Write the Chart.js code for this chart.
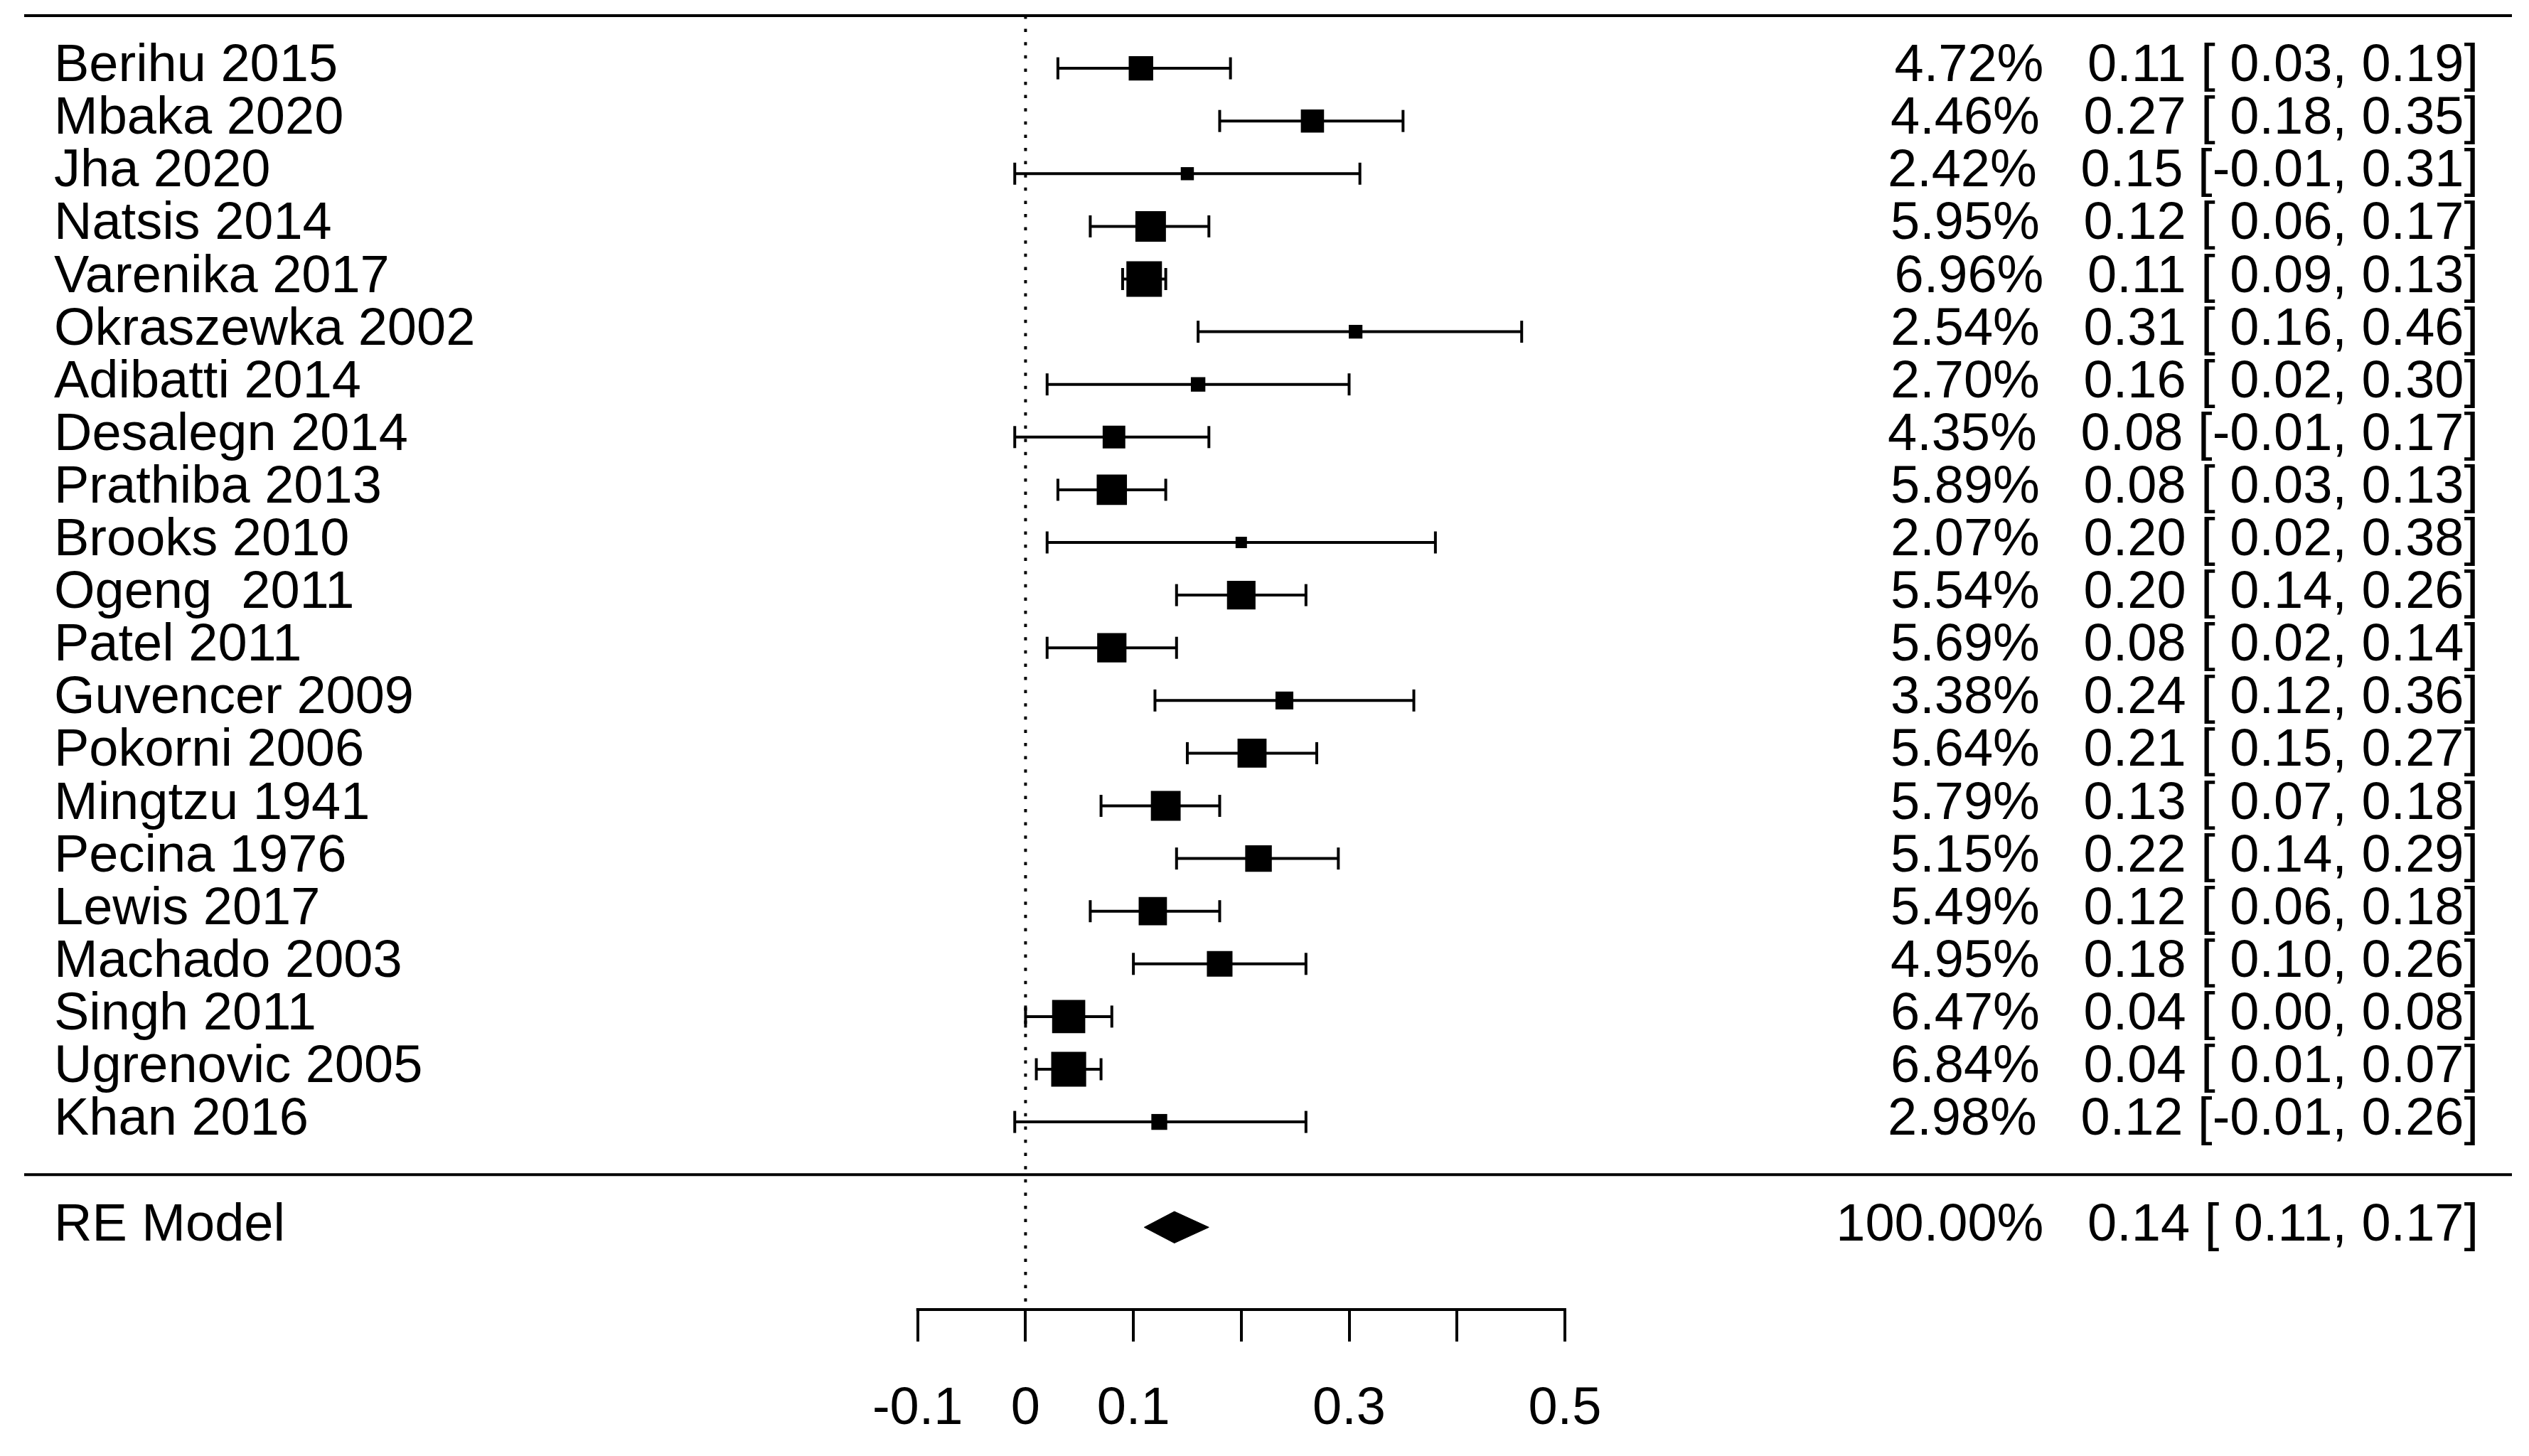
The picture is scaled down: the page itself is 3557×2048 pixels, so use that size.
<!DOCTYPE html>
<html>
<head>
<meta charset="utf-8">
<script src="https://cdn.jsdelivr.net/npm/chart.js@4/dist/chart.umd.min.js"></script>
<style>
html,body{margin:0;padding:0;background:#ffffff;}
canvas{display:block;}
</style>
</head>
<body>
<canvas id="forest" width="3557" height="2048"></canvas>
<script>
// ---------------- data ----------------
const studies = ['Berihu 2015','Mbaka 2020','Jha 2020','Natsis 2014','Varenika 2017','Okraszewka 2002','Adibatti 2014','Desalegn 2014','Prathiba 2013','Brooks 2010','Ogeng  2011','Patel 2011','Guvencer 2009','Pokorni 2006','Mingtzu 1941','Pecina 1976','Lewis 2017','Machado 2003','Singh 2011','Ugrenovic 2005','Khan 2016'];
const weights   = [4.72, 4.46, 2.42, 5.95, 6.96, 2.54, 2.70, 4.35, 5.89, 2.07, 5.54, 5.69, 3.38, 5.64, 5.79, 5.15, 5.49, 4.95, 6.47, 6.84, 2.98];
const estimates = [0.107, 0.266, 0.15, 0.116, 0.11, 0.306, 0.16, 0.082, 0.08, 0.20, 0.20, 0.08, 0.24, 0.21, 0.13, 0.216, 0.118, 0.18, 0.04, 0.04, 0.124];
const lower     = [0.03, 0.18, -0.01, 0.06, 0.09, 0.16, 0.02, -0.01, 0.03, 0.02, 0.14, 0.02, 0.12, 0.15, 0.07, 0.14, 0.06, 0.10, 0.00, 0.01, -0.01];
const upper     = [0.19, 0.35, 0.31, 0.17, 0.13, 0.46, 0.30, 0.17, 0.13, 0.38, 0.26, 0.14, 0.36, 0.27, 0.18, 0.29, 0.18, 0.26, 0.08, 0.07, 0.26];

const modelLabel    = 'RE Model';
const modelWeight   = 100.00;
const modelEstimate = 0.138;
const modelLower    = 0.11;
const modelUpper    = 0.17;

const tickValues = [-0.1, 0, 0.1, 0.2, 0.3, 0.4, 0.5];
const tickLabels = ['-0.1', '0', '0.1', '', '0.3', '', '0.5'];

// ---------------- layout / style constants ----------------
const FONT_FAMILY = "'Liberation Sans', Arial, Helvetica, sans-serif";
const FONT_SIZE = 74;
const INK = '#000000';
const k = studies.length;
const rows = studies.map((_, i) => k - i);   // k .. 1
const modelRow = -1;
const topRow = k + 1;
const sepRow = 0;

const X_MIN = -0.92841, X_MAX = 1.37811;
const Y_MAX = 22.2969, Y_MIN = -2.5614;
const MIN_SIDE = 16, MAX_SIDE = 50;
const wMin = Math.min(...weights), wMax = Math.max(...weights);
const squareRadius = weights.map(w => (MIN_SIDE + (w - wMin) / (wMax - wMin) * (MAX_SIDE - MIN_SIDE)) / (2 * Math.SQRT1_2));
const DIAMOND_HALF = 0.30;

function fmt(v) { return v.toFixed(2); }
function fmtLo(v) { return (v < 0 ? '' : ' ') + v.toFixed(2); }
function annot(w, e, lo, hi) { return fmt(w) + '%   ' + fmt(e) + ' [' + fmtLo(lo) + ', ' + fmt(hi) + ']'; }

// ---------------- datasets ----------------
const datasets = [];

// squares (drawn on top)
datasets.push({
  label: 'estimates',
  data: rows.map((r, i) => ({x: estimates[i], y: r})),
  showLine: false,
  pointStyle: 'rect',
  pointRadius: squareRadius,
  pointHoverRadius: squareRadius,
  pointBackgroundColor: INK,
  pointBorderWidth: 0,
  clip: false
});

// confidence intervals with end caps
rows.forEach((r, i) => {
  datasets.push({
    label: 'ci ' + studies[i],
    data: [{x: lower[i], y: r}, {x: upper[i], y: r}],
    showLine: true,
    borderColor: INK,
    borderWidth: 4,
    pointStyle: 'line',
    pointRotation: 90,
    pointRadius: 15.5,
    pointHoverRadius: 15.5,
    pointBorderColor: INK,
    pointBorderWidth: 4,
    clip: false
  });
});

// summary diamond: upper half filled to lower half
datasets.push({
  label: 'diamond upper',
  data: [{x: modelLower, y: modelRow}, {x: modelEstimate, y: modelRow + DIAMOND_HALF}, {x: modelUpper, y: modelRow}],
  showLine: true,
  borderColor: INK,
  borderWidth: 1,
  backgroundColor: INK,
  fill: '+1',
  pointRadius: 0,
  tension: 0
});
datasets.push({
  label: 'diamond lower',
  data: [{x: modelLower, y: modelRow}, {x: modelEstimate, y: modelRow - DIAMOND_HALF}, {x: modelUpper, y: modelRow}],
  showLine: true,
  borderColor: INK,
  borderWidth: 1,
  backgroundColor: INK,
  fill: false,
  pointRadius: 0,
  tension: 0
});

// reference (dotted) line at 0
datasets.push({
  label: 'zero line',
  data: [{x: 0, y: topRow}, {x: 0, y: Y_MIN}],
  showLine: true,
  borderColor: INK,
  borderWidth: 4,
  borderDash: [4.5, 14.1],
  borderCapStyle: 'butt',
  pointRadius: 0,
  clip: false
});

// horizontal rules
[topRow, sepRow].forEach(r => {
  datasets.push({
    label: 'rule ' + r,
    data: [{x: X_MIN, y: r}, {x: X_MAX, y: r}],
    showLine: true,
    borderColor: INK,
    borderWidth: 4,
    pointRadius: 0,
    clip: false
  });
});

// axis baseline (only across the tick range)
datasets.push({
  label: 'axis',
  data: [{x: tickValues[0], y: Y_MIN}, {x: tickValues[tickValues.length - 1], y: Y_MIN}],
  showLine: true,
  borderColor: INK,
  borderWidth: 4,
  borderCapStyle: 'square',
  pointRadius: 0,
  clip: false
});

// ---------------- text plugin ----------------
const textPlugin = {
  id: 'forestText',
  afterDraw(chart) {
    const ctx = chart.ctx;
    const ys = chart.scales.y;
    ctx.save();
    ctx.fillStyle = INK;
    ctx.font = FONT_SIZE + 'px ' + FONT_FAMILY;
    ctx.textBaseline = 'alphabetic';
    const leftX = 76, rightX = 3486;
    rows.forEach((r, i) => {
      const y = ys.getPixelForValue(r) + 18;
      ctx.textAlign = 'left';
      ctx.fillText(studies[i], leftX, y);
      ctx.textAlign = 'right';
      ctx.fillText(annot(weights[i], estimates[i], lower[i], upper[i]), rightX, y);
    });
    const my = ys.getPixelForValue(modelRow) + 19;
    ctx.textAlign = 'left';
    ctx.fillText(modelLabel, leftX, my);
    ctx.textAlign = 'right';
    ctx.fillText(annot(modelWeight, modelEstimate, modelLower, modelUpper), rightX, my);
    ctx.restore();
  }
};

// ---------------- chart ----------------
new Chart(document.getElementById('forest'), {
  type: 'scatter',
  data: { datasets },
  options: {
    responsive: false,
    devicePixelRatio: 1,
    animation: false,
    events: [],
    layout: { autoPadding: false, padding: { left: 34, right: 24, top: 0, bottom: 0 } },
    plugins: {
      legend: { display: false },
      tooltip: { enabled: false },
      title: { display: false }
    },
    scales: {
      x: {
        type: 'linear',
        position: 'bottom',
        min: X_MIN,
        max: X_MAX,
        afterBuildTicks: (scale) => { scale.ticks = tickValues.map(v => ({ value: v })); },
        afterFit: (scale) => { scale.height = 206; },
        border: { display: false },
        grid: {
          display: true,
          drawOnChartArea: false,
          drawTicks: true,
          tickLength: 45,
          tickWidth: 4,
          lineWidth: 4,
          tickColor: INK,
          color: INK
        },
        ticks: {
          autoSkip: false,
          maxRotation: 0,
          minRotation: 0,
          padding: 51,
          color: INK,
          font: { family: FONT_FAMILY, size: FONT_SIZE },
          callback: (value, index) => tickLabels[index]
        }
      },
      y: {
        type: 'linear',
        display: false,
        min: Y_MIN,
        max: Y_MAX
      }
    }
  },
  plugins: [textPlugin]
});
</script>
</body>
</html>
